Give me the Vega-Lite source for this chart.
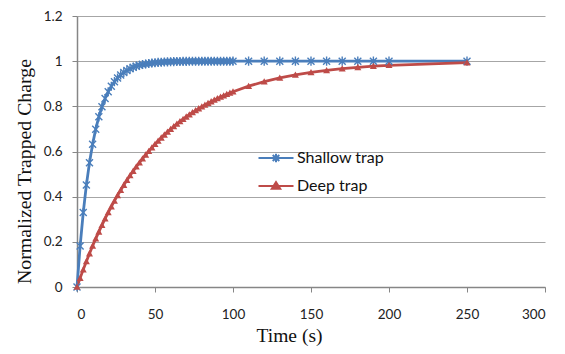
{
  "$schema": "https://vega.github.io/schema/vega-lite/v6.json",
  "autosize": "none",
  "width": 468,
  "height": 271,
  "padding": {"left": 77, "top": 16, "right": 20, "bottom": 67},
  "background": "white",
  "config": {"view": {"stroke": null}},
  "data": {"values": [
    {"t":0,"s":"Shallow trap","q":0},{"t":2,"s":"Shallow trap","q":0.1813},{"t":4,"s":"Shallow trap","q":0.3297},{"t":6,"s":"Shallow trap","q":0.4512},{"t":8,"s":"Shallow trap","q":0.5507},{"t":10,"s":"Shallow trap","q":0.6321},{"t":12,"s":"Shallow trap","q":0.6988},{"t":14,"s":"Shallow trap","q":0.7534},{"t":16,"s":"Shallow trap","q":0.7981},{"t":18,"s":"Shallow trap","q":0.8347},{"t":20,"s":"Shallow trap","q":0.8647},{"t":22,"s":"Shallow trap","q":0.8892},{"t":24,"s":"Shallow trap","q":0.9093},{"t":26,"s":"Shallow trap","q":0.9257},{"t":28,"s":"Shallow trap","q":0.9392},{"t":30,"s":"Shallow trap","q":0.9502},{"t":32,"s":"Shallow trap","q":0.9592},{"t":34,"s":"Shallow trap","q":0.9666},{"t":36,"s":"Shallow trap","q":0.9727},{"t":38,"s":"Shallow trap","q":0.9776},{"t":40,"s":"Shallow trap","q":0.9817},{"t":42,"s":"Shallow trap","q":0.985},{"t":44,"s":"Shallow trap","q":0.9877},{"t":46,"s":"Shallow trap","q":0.9899},{"t":48,"s":"Shallow trap","q":0.9918},{"t":50,"s":"Shallow trap","q":0.9933},{"t":52,"s":"Shallow trap","q":0.9945},{"t":54,"s":"Shallow trap","q":0.9955},{"t":56,"s":"Shallow trap","q":0.9963},{"t":58,"s":"Shallow trap","q":0.997},{"t":60,"s":"Shallow trap","q":0.9975},{"t":62,"s":"Shallow trap","q":0.998},{"t":64,"s":"Shallow trap","q":0.9983},{"t":66,"s":"Shallow trap","q":0.9986},{"t":68,"s":"Shallow trap","q":0.9989},{"t":70,"s":"Shallow trap","q":0.9991},{"t":72,"s":"Shallow trap","q":0.9993},{"t":74,"s":"Shallow trap","q":0.9994},{"t":76,"s":"Shallow trap","q":0.9995},{"t":78,"s":"Shallow trap","q":0.9996},{"t":80,"s":"Shallow trap","q":0.9997},{"t":82,"s":"Shallow trap","q":0.9997},{"t":84,"s":"Shallow trap","q":0.9998},{"t":86,"s":"Shallow trap","q":0.9998},{"t":88,"s":"Shallow trap","q":0.9998},{"t":90,"s":"Shallow trap","q":0.9999},{"t":92,"s":"Shallow trap","q":0.9999},{"t":94,"s":"Shallow trap","q":0.9999},{"t":96,"s":"Shallow trap","q":0.9999},{"t":98,"s":"Shallow trap","q":0.9999},{"t":100,"s":"Shallow trap","q":1},{"t":110,"s":"Shallow trap","q":1},{"t":120,"s":"Shallow trap","q":1},{"t":130,"s":"Shallow trap","q":1},{"t":140,"s":"Shallow trap","q":1},{"t":150,"s":"Shallow trap","q":1},{"t":160,"s":"Shallow trap","q":1},{"t":170,"s":"Shallow trap","q":1},{"t":180,"s":"Shallow trap","q":1},{"t":190,"s":"Shallow trap","q":1},{"t":200,"s":"Shallow trap","q":1},{"t":250,"s":"Shallow trap","q":1},
    {"t":0,"s":"Deep trap","q":0},{"t":2,"s":"Deep trap","q":0.0392},{"t":4,"s":"Deep trap","q":0.0769},{"t":6,"s":"Deep trap","q":0.1131},{"t":8,"s":"Deep trap","q":0.1479},{"t":10,"s":"Deep trap","q":0.1813},{"t":12,"s":"Deep trap","q":0.2134},{"t":14,"s":"Deep trap","q":0.2442},{"t":16,"s":"Deep trap","q":0.2739},{"t":18,"s":"Deep trap","q":0.3023},{"t":20,"s":"Deep trap","q":0.3297},{"t":22,"s":"Deep trap","q":0.356},{"t":24,"s":"Deep trap","q":0.3812},{"t":26,"s":"Deep trap","q":0.4055},{"t":28,"s":"Deep trap","q":0.4288},{"t":30,"s":"Deep trap","q":0.4512},{"t":32,"s":"Deep trap","q":0.4727},{"t":34,"s":"Deep trap","q":0.4934},{"t":36,"s":"Deep trap","q":0.5132},{"t":38,"s":"Deep trap","q":0.5323},{"t":40,"s":"Deep trap","q":0.5507},{"t":42,"s":"Deep trap","q":0.5683},{"t":44,"s":"Deep trap","q":0.5852},{"t":46,"s":"Deep trap","q":0.6015},{"t":48,"s":"Deep trap","q":0.6171},{"t":50,"s":"Deep trap","q":0.6321},{"t":52,"s":"Deep trap","q":0.6465},{"t":54,"s":"Deep trap","q":0.6604},{"t":56,"s":"Deep trap","q":0.6737},{"t":58,"s":"Deep trap","q":0.6865},{"t":60,"s":"Deep trap","q":0.6988},{"t":62,"s":"Deep trap","q":0.7106},{"t":64,"s":"Deep trap","q":0.722},{"t":66,"s":"Deep trap","q":0.7329},{"t":68,"s":"Deep trap","q":0.7433},{"t":70,"s":"Deep trap","q":0.7534},{"t":72,"s":"Deep trap","q":0.7631},{"t":74,"s":"Deep trap","q":0.7724},{"t":76,"s":"Deep trap","q":0.7813},{"t":78,"s":"Deep trap","q":0.7899},{"t":80,"s":"Deep trap","q":0.7981},{"t":82,"s":"Deep trap","q":0.806},{"t":84,"s":"Deep trap","q":0.8136},{"t":86,"s":"Deep trap","q":0.8209},{"t":88,"s":"Deep trap","q":0.828},{"t":90,"s":"Deep trap","q":0.8347},{"t":92,"s":"Deep trap","q":0.8412},{"t":94,"s":"Deep trap","q":0.8474},{"t":96,"s":"Deep trap","q":0.8534},{"t":98,"s":"Deep trap","q":0.8591},{"t":100,"s":"Deep trap","q":0.8647},{"t":110,"s":"Deep trap","q":0.8892},{"t":120,"s":"Deep trap","q":0.9093},{"t":130,"s":"Deep trap","q":0.9257},{"t":140,"s":"Deep trap","q":0.9392},{"t":150,"s":"Deep trap","q":0.9502},{"t":160,"s":"Deep trap","q":0.9592},{"t":170,"s":"Deep trap","q":0.9666},{"t":180,"s":"Deep trap","q":0.9727},{"t":190,"s":"Deep trap","q":0.9776},{"t":200,"s":"Deep trap","q":0.9817},{"t":250,"s":"Deep trap","q":0.9933}
  ]},
  "encoding": {
    "x": {
      "field": "t", "type": "quantitative",
      "scale": {"domain": [0, 300], "nice": false, "zero": true},
      "axis": {
        "title": "Time (s)", "values": [0, 50, 100, 150, 200, 250, 300],
        "grid": false, "domainColor": "#868686", "domainWidth": 1.5, "tickColor": "#868686", "tickSize": 5,
        "labelFont": "Lato", "labelFontSize": 13.5, "labelColor": "#222", "labelPadding": 15,
        "titleFont": "Liberation Serif", "titleFontSize": 19.5, "titleFontWeight": "normal", "titleColor": "#111", "titlePadding": 6, "titleX": 212
      }
    },
    "y": {
      "field": "q", "type": "quantitative",
      "scale": {"domain": [0, 1.2], "nice": false},
      "axis": {
        "title": "Normalized Trapped Charge", "values": [0, 0.2, 0.4, 0.6, 0.8, 1, 1.2],
        "labelExpr": "format(datum.value, '~g')",
        "grid": true, "gridColor": "#a6a6a6", "gridWidth": 1.2,
        "domainColor": "#868686", "domainWidth": 1.5, "tickColor": "#868686", "tickSize": 5,
        "labelFont": "Lato", "labelFontSize": 13.5, "labelColor": "#222", "labelPadding": 10,
        "titleFont": "Liberation Serif", "titleFontSize": 19.8, "titleFontWeight": "normal", "titleColor": "#111", "titlePadding": 9, "titleY": 155
      }
    },
    "color": {
      "field": "s", "type": "nominal",
      "scale": {"domain": ["Shallow trap", "Deep trap"], "range": ["#4a7ebb", "#be4b48"]},
      "legend": {
        "title": null, "orient": "none", "legendX": 188, "legendY": 131, "padding": 0,
        "symbolSize": 400, "symbolStrokeWidth": 2.5, "rowPadding": 8, "labelOffset": 10,
        "labelFont": "Lato", "labelFontSize": 16, "labelColor": "#111",
        "encode": {"symbols": {"update": {
          "shape": {"signal": "datum.value === 'Shallow trap' ? 'M-1.75,0H1.75M-0.33,-0.3L0.33,0.3M-0.33,0.3L0.33,-0.3M0,-0.42V0.42' : 'M-1.75,0H1.75M-0.42,0.27L0.42,0.27L0,-0.38Z'"},
          "fill": {"scale": "color", "field": "value"},
          "stroke": {"scale": "color", "field": "value"},
          "strokeWidth": {"value": 2}
        }}}
      }
    }
  },
  "layer": [
    {"mark": {"type": "line", "strokeWidth": 2.8}},
    {
      "transform": [{"filter": "datum.s === 'Shallow trap'"}],
      "mark": {"type": "point", "filled": false, "size": 49, "strokeWidth": 1.4, "opacity": 1, "shape": "M-1,-1L1,1M-1,1L1,-1M0,-1.3V1.3"}
    },
    {
      "transform": [{"filter": "datum.s === 'Deep trap'"}],
      "mark": {"type": "point", "filled": true, "size": 49, "opacity": 1, "shape": "M-1,0.8L1,0.8L0,-1Z"}
    }
  ]
}
